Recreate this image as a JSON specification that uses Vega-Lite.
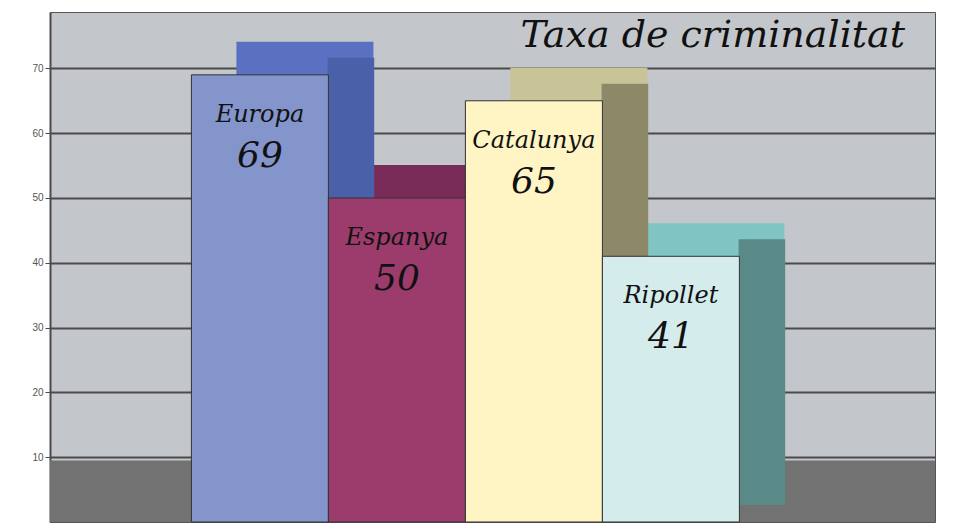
{
  "$schema": "https://vega.github.io/schema/vega-lite/v6.json",
  "width": 885,
  "height": 510,
  "autosize": {"type": "none"},
  "padding": {"left": 50, "top": 12, "right": 18, "bottom": 6},
  "background": "#ffffff",
  "config": {
    "view": {"fill": "#c3c7cb", "stroke": "#555555", "strokeWidth": 1}
  },
  "title": {
    "text": "Taxa de criminalitat",
    "anchor": "end",
    "frame": "group",
    "orient": "top",
    "baseline": "top",
    "offset": -43,
    "dx": -30,
    "font": "DejaVu Serif",
    "fontStyle": "italic",
    "fontWeight": "normal",
    "fontSize": 38,
    "color": "#111111"
  },
  "datasets": {
    "bars": [
      {"regio": "Europa", "taxa": 69},
      {"regio": "Espanya", "taxa": 50},
      {"regio": "Catalunya", "taxa": 65},
      {"regio": "Ripollet", "taxa": 41}
    ],
    "floor": [{"from": 0, "to": 9.5}]
  },
  "layer": [
    {
      "data": {"name": "floor"},
      "mark": {"type": "rect", "color": "#727272"},
      "encoding": {
        "y": {"field": "from", "type": "quantitative", "scale": {"domain": [0, 78.7], "nice": false},
          "axis": {"values": [10, 20, 30, 40, 50, 60, 70], "grid": true, "gridColor": "#4a4a4a", "gridWidth": 2,
            "domainColor": "#4a4a4a", "domainWidth": 2, "tickColor": "#4a4a4a", "tickSize": 5,
            "labelFont": "Liberation Sans", "labelFontSize": 10, "labelColor": "#555555", "title": null, "labelPadding": 2}},
        "y2": {"field": "to"}
      }
    },
    {
      "data": {"name": "bars"},
      "encoding": {
        "x": {
          "field": "regio", "type": "nominal",
          "scale": {"domain": ["a0", "Europa", "Espanya", "Catalunya", "Ripollet", "a1"], "paddingInner": 0, "paddingOuter": 0.23, "align": 0.07},
          "axis": null
        },
        "y": {
          "field": "taxa", "type": "quantitative",
          "scale": {"domain": [0, 78.7], "nice": false}
        }
      },
      "layer": [
        {
          "mark": {"type": "bar", "xOffset": 45, "yOffset": -33},
          "encoding": {
            "color": {
              "field": "regio", "type": "nominal",
              "scale": {"domain": ["Europa", "Espanya", "Catalunya", "Ripollet"], "range": ["#5a70c0", "#7a2c58", "#c8c498", "#80c4c4"]},
              "legend": null
            }
          }
        },
        {
          "mark": {"type": "bar", "width": {"band": 0.34}, "xOffset": 91, "yOffset": -17},
          "encoding": {
            "color": {
              "field": "regio", "type": "nominal",
              "scale": {"domain": ["Europa", "Espanya", "Catalunya", "Ripollet"], "range": ["#4a60a8", "#6e2450", "#8c8868", "#5a8a88"]},
              "legend": null
            }
          }
        },
        {
          "mark": {"type": "bar", "stroke": "#333333", "strokeWidth": 1},
          "encoding": {
            "color": {
              "field": "regio", "type": "nominal",
              "scale": {"domain": ["Europa", "Espanya", "Catalunya", "Ripollet"], "range": ["#8495cc", "#9c3c6c", "#fff4c4", "#d4ecec"]},
              "legend": null
            }
          }
        },
        {
          "mark": {"type": "text", "dy": 40, "baseline": "middle", "font": "DejaVu Serif", "fontStyle": "italic", "fontSize": 24, "color": "#111111"},
          "encoding": {"text": {"field": "regio"}}
        },
        {
          "mark": {"type": "text", "dy": 81, "baseline": "middle", "font": "DejaVu Serif", "fontStyle": "italic", "fontSize": 36, "color": "#111111"},
          "encoding": {"text": {"field": "taxa", "type": "quantitative"}}
        }
      ],
      "resolve": {"scale": {"color": "independent"}}
    }
  ]
}
